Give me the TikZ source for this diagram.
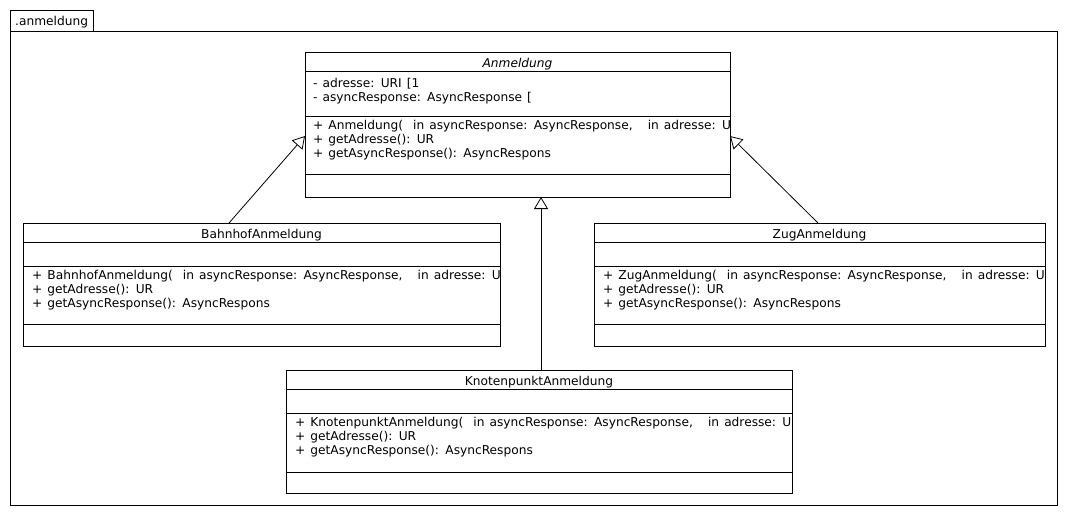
\documentclass[tikz,border=0pt]{standalone}
\usepackage{fontspec}
\setmainfont[WordSpace=1.3]{DejaVu Sans}
\usetikzlibrary{calc,arrows.meta}
\begin{document}
\begin{tikzpicture}[x=1pt,y=-1pt,
  box/.style={draw, line width=0.8pt, anchor=north west, inner sep=0pt, outer sep=0pt},
  txt/.style={anchor=base west, inner sep=0pt, font=\fontsize{12.2}{14}\selectfont},
  ttl/.style={anchor=base, inner sep=0pt, font=\fontsize{12.2}{14}\selectfont},
  sep/.style={line width=0.8pt},
  gen/.style={line width=0.8pt, -{Triangle[open, length=12pt, width=14pt, fill=white]}}]
\useasboundingbox (0,0) rectangle (1067,515);
% package
\node[box, minimum width=83pt, minimum height=21pt] (pkgtab) at (10,10) {};
\node[box, minimum width=1047pt, minimum height=474pt] (pkg) at (10,31) {};
\node[txt] (pkgname) at (15,25) {.anmeldung};
% Anmeldung
\node[box, minimum width=425pt, minimum height=145pt] (anm) at (305,52) {};
\draw[sep] ($(anm.north west)+(0,19)$) -- ++(425,0);
\draw[sep] ($(anm.north west)+(0,64)$) -- ++(425,0);
\draw[sep] ($(anm.north west)+(0,122)$) -- ++(425,0);
\begin{scope}
\clip (anm.north west) rectangle (anm.south east);
\node[ttl] (anmt) at ($(anm.north)+(0,15.5)$) {\itshape Anmeldung};
\node[txt] (anma1) at ($(anm.north west)+(8,35)$) {- adresse: URI [1};
\node[txt] (anma2) at ($(anm.north west)+(8,49)$) {- asyncResponse: AsyncResponse [};
\node[txt] (anmm1) at ($(anm.north west)+(8,77)$) {+ Anmeldung(~~in asyncResponse: AsyncResponse,~~~in adresse: U};
\node[txt] (anmm2) at ($(anm.north west)+(8,91)$) {+ getAdresse(): UR};
\node[txt] (anmm3) at ($(anm.north west)+(8,105)$) {+ getAsyncResponse(): AsyncRespons};
\end{scope}
% BahnhofAnmeldung
\node[box, minimum width=477pt, minimum height=123pt] (bahn) at (23,223) {};
\draw[sep] ($(bahn.north west)+(0,19)$) -- ++(477,0);
\draw[sep] ($(bahn.north west)+(0,43)$) -- ++(477,0);
\draw[sep] ($(bahn.north west)+(0,101)$) -- ++(477,0);
\begin{scope}
\clip (bahn.north west) rectangle (bahn.south east);
\node[ttl] (bahnt) at ($(bahn.north)+(0,15.5)$) {BahnhofAnmeldung};
\node[txt] (bahnm1) at ($(bahn.north west)+(9,56)$) {+ BahnhofAnmeldung(~~in asyncResponse: AsyncResponse,~~~in adresse: U};
\node[txt] (bahnm2) at ($(bahn.north west)+(9,70)$) {+ getAdresse(): UR};
\node[txt] (bahnm3) at ($(bahn.north west)+(9,84)$) {+ getAsyncResponse(): AsyncRespons};
\end{scope}
% ZugAnmeldung
\node[box, minimum width=451pt, minimum height=123pt] (zug) at (594,223) {};
\draw[sep] ($(zug.north west)+(0,19)$) -- ++(451,0);
\draw[sep] ($(zug.north west)+(0,43)$) -- ++(451,0);
\draw[sep] ($(zug.north west)+(0,101)$) -- ++(451,0);
\begin{scope}
\clip (zug.north west) rectangle (zug.south east);
\node[ttl] (zugt) at ($(zug.north)+(0,15.5)$) {ZugAnmeldung};
\node[txt] (zugm1) at ($(zug.north west)+(9,56)$) {+ ZugAnmeldung(~~in asyncResponse: AsyncResponse,~~~in adresse: U};
\node[txt] (zugm2) at ($(zug.north west)+(9,70)$) {+ getAdresse(): UR};
\node[txt] (zugm3) at ($(zug.north west)+(9,84)$) {+ getAsyncResponse(): AsyncRespons};
\end{scope}
% KnotenpunktAnmeldung
\node[box, minimum width=506pt, minimum height=123pt] (knot) at (286,370) {};
\draw[sep] ($(knot.north west)+(0,19)$) -- ++(506,0);
\draw[sep] ($(knot.north west)+(0,43)$) -- ++(506,0);
\draw[sep] ($(knot.north west)+(0,102)$) -- ++(506,0);
\begin{scope}
\clip (knot.north west) rectangle (knot.south east);
\node[ttl] (knott) at ($(knot.north)+(0,15.5)$) {KnotenpunktAnmeldung};
\node[txt] (knotm1) at ($(knot.north west)+(9,56)$) {+ KnotenpunktAnmeldung(~~in asyncResponse: AsyncResponse,~~~in adresse: U};
\node[txt] (knotm2) at ($(knot.north west)+(9,70)$) {+ getAdresse(): UR};
\node[txt] (knotm3) at ($(knot.north west)+(9,84)$) {+ getAsyncResponse(): AsyncRespons};
\end{scope}
% generalisations
\draw[gen] ($(bahn.north west)+(206,0)$) -- ($(anm.north west)+(0,84)$);
\draw[gen] ($(zug.north west)+(224,0)$) -- ($(anm.north east)+(0,84)$);
\draw[gen] ($(knot.north west)+(255,0)$) -- ($(anm.south west)+(236,0)$);
\end{tikzpicture}
\end{document}
